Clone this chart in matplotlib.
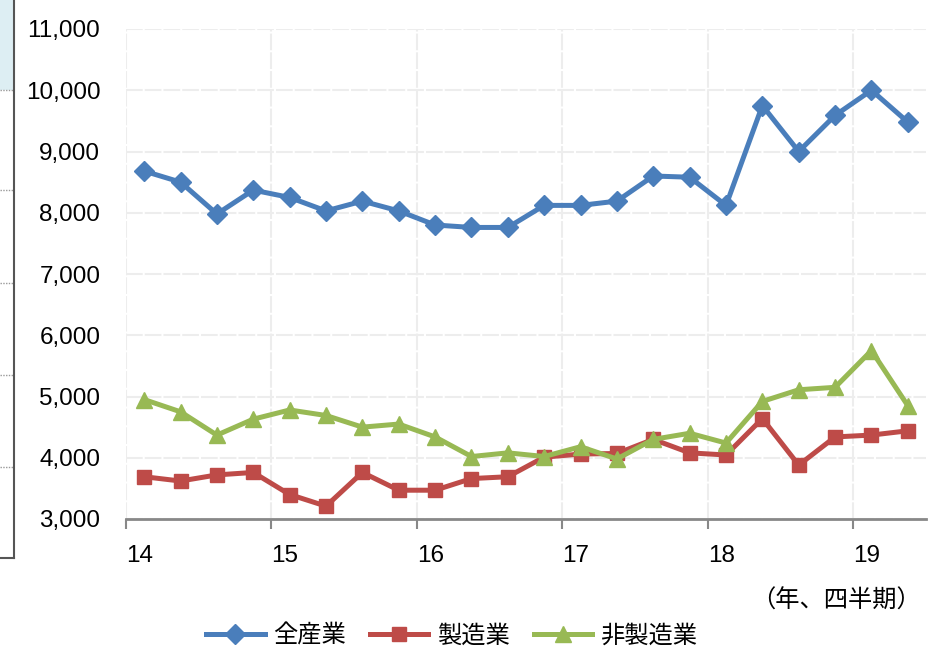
import numpy as np
import matplotlib.pyplot as plt
import matplotlib.transforms as mtransforms
from matplotlib.patches import Rectangle
from matplotlib.lines import Line2D

plt.rcParams['font.family'] = ['Liberation Sans', 'Noto Sans CJK JP', 'DejaVu Sans']

# 四半期 (2014Q1 - 2019Q2)
anos = ['14', '15', '16', '17', '18', '19']
todos = [8680, 8500, 7980, 8370, 8250, 8030, 8190, 8030, 7800, 7760, 7760,
         8120, 8120, 8190, 8600, 8580, 8120, 9750, 9000, 9590, 10000, 9480]
manufatura = [3690, 3620, 3720, 3760, 3400, 3210, 3760, 3470, 3470, 3660, 3690,
              4010, 4060, 4070, 4300, 4080, 4045, 4640, 3880, 4340, 4370, 4440]
nao_manufatura = [4950, 4750, 4370, 4630, 4780, 4690, 4500, 4550, 4340, 4020, 4080,
                  4020, 4180, 3980, 4300, 4400, 4240, 4920, 5110, 5150, 5750, 4850]
nomes = ['全産業', '製造業', '非製造業']

azul = '#4A7EBB'
vermelho = '#BE4B48'
verde = '#98B954'

fig = plt.figure(figsize=(9.32, 6.51), dpi=100)
ax = fig.add_axes([126 / 932, 1 - 519 / 651, 800 / 932, 490 / 651])

x = np.arange(len(todos))
ax.plot(x, todos, color=azul, lw=3.6, marker='D', ms=10, label=nomes[0], zorder=3)
ax.plot(x, manufatura, color=vermelho, lw=3.6, marker='s', ms=10, label=nomes[1], zorder=3)
ax.plot(x, nao_manufatura, color=verde, lw=3.6, marker='^', ms=12, label=nomes[2], zorder=3)

ax.set_ylim(3000, 11000)
ax.set_xlim(-0.5, 21.5)
ax.set_yticks(np.arange(3000, 11001, 1000))
ax.set_yticklabels(['{:,}'.format(v) for v in range(3000, 11001, 1000)], fontsize=17.5)
ax.set_xticks(np.arange(len(anos)) * 4 - 0.5)
ax.set_xticklabels(anos, fontsize=17.5, ha='left')
desloc = mtransforms.ScaledTranslation(3 / 100, 0, fig.dpi_scale_trans)
for rot in ax.get_xticklabels():
    rot.set_transform(rot.get_transform() + desloc)

ax.tick_params(axis='y', length=0, pad=18.5)
ax.tick_params(axis='x', length=7, width=1.5, color='#888888', pad=11.5)
for lado in ['top', 'right', 'left']:
    ax.spines[lado].set_visible(False)
ax.spines['bottom'].set_color('#888888')
ax.spines['bottom'].set_linewidth(2)

ax.grid(True, color='#EDEDED', lw=1.5, ls=(0, (8, 1)))
ax.set_axisbelow(True)

# borda da figura vizinha à esquerda
fig.patches.append(Rectangle((0, 1 - 90 / 651), 14 / 932, 90 / 651, transform=fig.transFigure,
                             facecolor='#DDEEF3', edgecolor='none'))
fig.add_artist(Line2D([14 / 932, 14 / 932], [1, 1 - 558 / 651], color='#555555', lw=1.5))
fig.add_artist(Line2D([0, 14 / 932], [1 - 558 / 651, 1 - 558 / 651], color='#555555', lw=1.5))
for yy in [90, 190, 283, 375, 467]:
    fig.add_artist(Line2D([0, 13 / 932], [1 - yy / 651, 1 - yy / 651], color='#999999',
                          lw=1, ls=(0, (1, 1))))

fig.text(0.988, 1 - 601 / 651, '（年、四半期）', ha='right', va='center', fontsize=17.5)
fig.legend(loc='center', bbox_to_anchor=(0.485, 1 - 636 / 651), ncol=3, frameon=False,
           fontsize=17.5, handlelength=2.4, columnspacing=1.0, handletextpad=0.35)

fig.savefig('out.png', dpi=100)
